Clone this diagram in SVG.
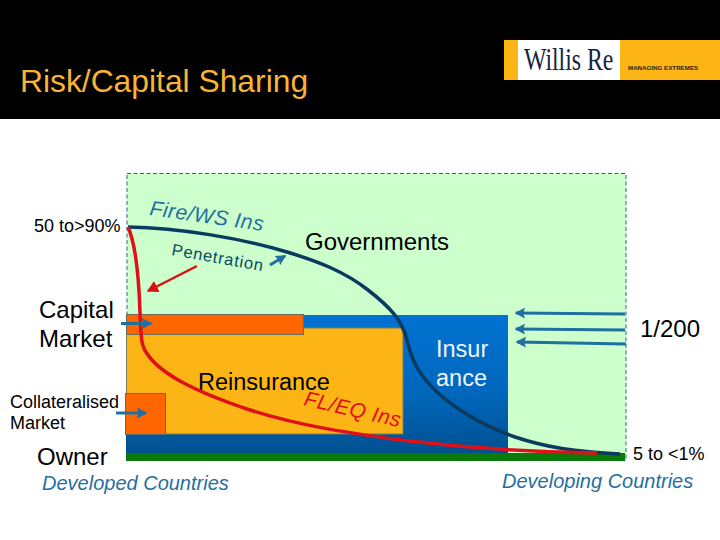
<svg xmlns="http://www.w3.org/2000/svg" width="720" height="540" viewBox="0 0 720 540">
<style>
text{font-family:"Liberation Sans",Arial,sans-serif;fill:#000}
.lg{font-size:24px}
.md{font-size:23.500px}
.sm{font-size:18px}
.co{font-size:20px;font-style:italic;fill:#1f6f9f}
.ar{stroke:#1f6f9f;stroke-width:3;fill:none;marker-end:url(#b)}
</style>
<defs>
<linearGradient id="g" x1="0" y1="0" x2="0" y2="1"><stop offset="0" stop-color="#0072d2"/><stop offset=".55" stop-color="#0068bd"/><stop offset="1" stop-color="#00508f"/></linearGradient>
<marker id="b" markerWidth="5" markerHeight="5" refX="3" refY="2" orient="auto" markerUnits="strokeWidth"><path d="M0 .2L3.500 2L0 3.800L.6 2Z" fill="#1f6f9f"/></marker>
<marker id="r" markerWidth="6" markerHeight="6" refX="4" refY="2.500" orient="auto" markerUnits="strokeWidth"><path d="M0 0L4.500 2.500L0 5Z" fill="#d81010"/></marker>
</defs>
<g id="header">
<rect width="720" height="119" fill="#000"/>
<text x="20" y="92" style="font-size:31.800px;fill:#f8b534">Risk/Capital Sharing</text>
</g>
<g id="logo">
<rect x="504" y="40" width="216" height="40" fill="#fdb515"/>
<rect x="518" y="40" width="102" height="40" fill="#fff"/>
<text transform="translate(524 70) scale(.765 1)" style="font-family:'Liberation Serif',serif;font-size:31px;fill:#14233f">Willis Re</text>
<text x="628" y="70" style="font-size:6.200px;font-weight:bold;fill:#2a2410">MANAGING EXTREMES</text>
</g>
<g id="panel"><rect x="127" y="173.500" width="499" height="287" fill="#ccffcc" stroke="#1f6f7f" stroke-width="1" stroke-dasharray="4 2.500"/></g>
<g id="insurance">
<rect x="126" y="315" width="382" height="139" fill="url(#g)"/>
<text x="436" y="357" class="md" style="fill:#eef6ff">Insur</text>
<text x="436" y="386" class="md" style="fill:#eef6ff">ance</text>
</g>
<g id="reinsurance">
<rect x="126.500" y="328" width="276.500" height="106" fill="#fdb515" stroke="#7c7a5a"/>
<text x="198" y="390" class="md">Reinsurance</text>
</g>
<g id="capital-market">
<rect x="126.500" y="314.500" width="177" height="20" fill="#ff6600" stroke="#6a6a5a"/>
<text x="39" y="318" class="lg">Capital</text>
<text x="39" y="347" class="lg">Market</text>
</g>
<g id="collateralised-market">
<rect x="125.500" y="393.500" width="40" height="41" fill="#ff6600" stroke="#4f6f7f"/>
<text x="10" y="408" style="font-size:18px">Collateralised</text>
<text x="10" y="429" style="font-size:18px">Market</text>
</g>
<g id="owner">
<rect x="126" y="453" width="499" height="8" fill="#0a7a0a"/>
<text x="37" y="465" class="lg">Owner</text>
</g>
<g id="connectors">
<path d="M128 227C180 228 240 238 287 252C320 262 345 272 368 290C390 307 402 320 407 340C412 362 420 376 437 392C462 415 490 428 515 437C545 447 575 452 620 454" fill="none" stroke="#0a3a5f" stroke-width="3.500"/>
<path d="M128 227C136 245 139 280 140 313C141 335 141 345 146 352C158 372 190 390 250 410C300 426 350 433 400 440C450 446 520 452 597 453" fill="none" stroke="#e0101a" stroke-width="3.500"/>
<path d="M197 266L148 291" fill="none" stroke="#d81010" stroke-width="2.500" marker-end="url(#r)"/>
<path d="M270 265L285 256" class="ar"/>
<path d="M121 323.500L151 323.500" class="ar"/>
<path d="M116 413L146 413" class="ar"/>
<path d="M625 314L516 313" class="ar"/>
<path d="M625 330L516 329" class="ar"/>
<path d="M626 344L517 342" class="ar"/>
</g>
<g id="labels">
<text x="34" y="232" class="sm">50 to&gt;90%</text>
<text transform="translate(149 215) rotate(8)" style="font-size:21px;font-style:italic;fill:#1f6f9f;letter-spacing:.5px">Fire/WS Ins</text>
<text transform="translate(171 255) rotate(10)" style="font-size:16.500px;fill:#0a4a5f;letter-spacing:.8px">Penetration</text>
<text x="305" y="250" style="font-size:24px">Governments</text>
<text transform="translate(303 405) rotate(13)" style="font-size:21px;font-style:italic;fill:#e0101a;letter-spacing:.5px">FL/EQ Ins</text>
<text x="640" y="337" class="lg">1/200</text>
<text x="633" y="460" class="sm">5 to &lt;1%</text>
<text x="42" y="490" class="co">Developed Countries</text>
<text x="502" y="488" class="co">Developing Countries</text>
</g>
</svg>
